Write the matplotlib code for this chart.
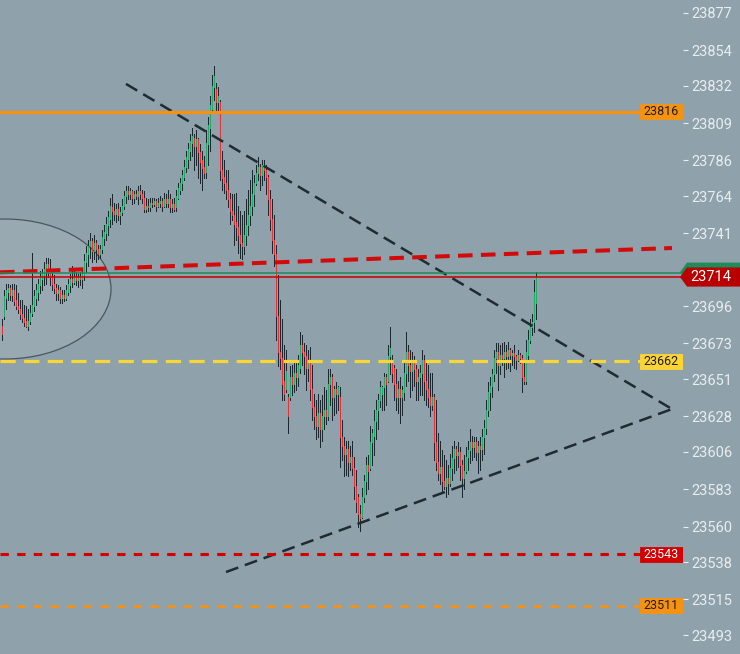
import matplotlib
matplotlib.use("Agg")
import matplotlib.pyplot as plt
from matplotlib.patches import Ellipse, Polygon, Rectangle
from matplotlib.transforms import blended_transform_factory

# -----------------------------
# candle data (one bar per index)
# -----------------------------
opens = [
    23684, 23690, 23701, 23705, 23707, 23703, 23706, 23700, 23696, 23694,
    23691, 23689, 23687, 23684, 23687, 23692, 23696, 23701, 23705, 23709,
    23713, 23715, 23719, 23722, 23718, 23714, 23710, 23707, 23704, 23706,
    23701, 23703, 23701, 23705, 23709, 23713, 23711, 23714, 23712, 23714,
    23713, 23715, 23723, 23728, 23733, 23736, 23730, 23735, 23731, 23728,
    23731, 23738, 23741, 23746, 23750, 23757, 23755, 23753, 23756, 23752,
    23754, 23758, 23764, 23767, 23765, 23767, 23763, 23765, 23764, 23767,
    23765, 23763, 23756, 23758, 23757, 23760, 23759, 23761, 23758, 23760,
    23761, 23758, 23762, 23760, 23762, 23757, 23759, 23757, 23763, 23768,
    23772, 23776, 23782, 23787, 23792, 23797, 23800, 23795, 23799, 23791,
    23786, 23782, 23779, 23796, 23806, 23818, 23831, 23830, 23822, 23822,
    23780, 23776, 23772, 23768, 23762, 23755, 23752, 23748, 23745, 23740,
    23735, 23733, 23740, 23746, 23752, 23758, 23765, 23772, 23778, 23782,
    23777, 23783, 23780, 23776, 23762, 23750, 23737, 23728, 23690, 23668,
    23664, 23650, 23645, 23640, 23640, 23652, 23648, 23655, 23652, 23658,
    23672, 23668, 23665, 23658, 23662, 23645, 23634, 23628, 23622, 23630,
    23620, 23628, 23632, 23628, 23648, 23652, 23640, 23645, 23642, 23640,
    23615, 23610, 23605, 23608, 23600, 23603, 23596, 23585, 23578, 23568,
    23566, 23578, 23588, 23598, 23596, 23612, 23616, 23625, 23632, 23638,
    23642, 23646, 23652, 23650, 23665, 23662, 23658, 23648, 23640, 23645,
    23640, 23643, 23655, 23668, 23660, 23656, 23662, 23657, 23650, 23652,
    23655, 23663, 23650, 23645, 23640, 23635, 23640, 23612, 23600, 23593,
    23597, 23588, 23585, 23590, 23587, 23596, 23602, 23608, 23604, 23606,
    23598, 23590, 23594, 23603, 23607, 23612, 23609, 23612, 23606, 23610,
    23608, 23615, 23621, 23632, 23643, 23647, 23654, 23664, 23668, 23660,
    23666, 23664, 23668, 23665, 23669, 23666, 23667, 23665, 23663, 23666,
    23664, 23652, 23650, 23666, 23675, 23683, 23686, 23698,
]
highs = [
    23688, 23706, 23710, 23710, 23709, 23710, 23710, 23709, 23704, 23700,
    23700, 23697, 23696, 23694, 23697, 23729, 23706, 23710, 23713, 23718,
    23719, 23723, 23726, 23726, 23725, 23718, 23715, 23710, 23709, 23708,
    23706, 23706, 23709, 23713, 23716, 23721, 23718, 23717, 23716, 23717,
    23719, 23728, 23733, 23737, 23741, 23738, 23740, 23737, 23734, 23734,
    23743, 23746, 23751, 23755, 23763, 23765, 23760, 23759, 23760, 23757,
    23762, 23767, 23770, 23770, 23769, 23768, 23767, 23768, 23770, 23771,
    23768, 23767, 23763, 23762, 23763, 23763, 23763, 23762, 23763, 23764,
    23763, 23766, 23765, 23768, 23765, 23762, 23763, 23768, 23772, 23775,
    23780, 23786, 23792, 23797, 23802, 23806, 23802, 23805, 23800, 23796,
    23792, 23789, 23805, 23813, 23826, 23839, 23844, 23834, 23831, 23823,
    23792, 23786, 23780, 23780, 23766, 23765, 23765, 23766, 23758, 23755,
    23752, 23755, 23762, 23768, 23774, 23780, 23777, 23783, 23788, 23784,
    23786, 23786, 23783, 23777, 23768, 23762, 23752, 23734, 23715, 23700,
    23688, 23672, 23669, 23642, 23659, 23660, 23663, 23662, 23666, 23680,
    23678, 23673, 23672, 23669, 23671, 23660, 23642, 23638, 23642, 23638,
    23641, 23646, 23644, 23657, 23657, 23654, 23647, 23649, 23647, 23646,
    23626, 23615, 23613, 23613, 23610, 23613, 23603, 23595, 23580, 23573,
    23584, 23592, 23603, 23604, 23622, 23620, 23632, 23638, 23642, 23650,
    23647, 23655, 23654, 23672, 23683, 23666, 23660, 23657, 23650, 23652,
    23647, 23663, 23680, 23672, 23669, 23668, 23665, 23660, 23657, 23660,
    23669, 23666, 23663, 23660, 23655, 23655, 23642, 23638, 23618, 23613,
    23607, 23604, 23601, 23598, 23605, 23610, 23613, 23610, 23612, 23609,
    23601, 23604, 23609, 23613, 23620, 23616, 23615, 23615, 23613, 23615,
    23620, 23626, 23638, 23649, 23652, 23657, 23669, 23673, 23673, 23672,
    23673, 23674, 23672, 23674, 23670, 23669, 23672, 23666, 23669, 23667,
    23666, 23662, 23675, 23681, 23688, 23691, 23712, 23717,
]
lows = [
    23675, 23688, 23694, 23700, 23700, 23699, 23697, 23694, 23692, 23688,
    23686, 23684, 23683, 23681, 23685, 23690, 23693, 23697, 23700, 23704,
    23706, 23709, 23710, 23714, 23709, 23706, 23704, 23700, 23700, 23698,
    23698, 23699, 23700, 23703, 23705, 23708, 23710, 23709, 23708, 23709,
    23707, 23712, 23717, 23721, 23726, 23723, 23725, 23723, 23725, 23726,
    23729, 23734, 23737, 23740, 23745, 23747, 23749, 23748, 23749, 23747,
    23752, 23756, 23760, 23762, 23762, 23759, 23760, 23762, 23759, 23762,
    23760, 23754, 23754, 23755, 23755, 23757, 23758, 23755, 23757, 23757,
    23755, 23757, 23757, 23757, 23754, 23754, 23755, 23755, 23762, 23765,
    23768, 23774, 23779, 23781, 23786, 23789, 23780, 23783, 23775, 23772,
    23768, 23775, 23775, 23783, 23792, 23815, 23823, 23815, 23815, 23774,
    23768, 23766, 23762, 23757, 23747, 23749, 23734, 23737, 23729, 23726,
    23725, 23728, 23734, 23740, 23746, 23752, 23758, 23771, 23774, 23768,
    23771, 23774, 23765, 23752, 23743, 23729, 23721, 23675, 23659, 23657,
    23638, 23638, 23643, 23618, 23638, 23641, 23643, 23644, 23647, 23655,
    23660, 23654, 23644, 23650, 23638, 23626, 23620, 23614, 23615, 23609,
    23613, 23620, 23623, 23626, 23635, 23626, 23629, 23630, 23632, 23597,
    23601, 23591, 23592, 23591, 23595, 23592, 23577, 23569, 23560, 23557,
    23565, 23575, 23580, 23583, 23595, 23598, 23604, 23614, 23620, 23634,
    23632, 23632, 23635, 23649, 23654, 23649, 23638, 23632, 23630, 23624,
    23629, 23638, 23647, 23650, 23640, 23644, 23647, 23638, 23638, 23641,
    23641, 23638, 23635, 23634, 23628, 23632, 23601, 23595, 23589, 23586,
    23581, 23583, 23578, 23580, 23585, 23589, 23593, 23595, 23597, 23589,
    23578, 23583, 23593, 23595, 23599, 23601, 23603, 23601, 23593, 23595,
    23601, 23605, 23617, 23628, 23632, 23640, 23650, 23655, 23644, 23654,
    23660, 23652, 23657, 23658, 23656, 23660, 23658, 23657, 23662, 23661,
    23643, 23648, 23648, 23663, 23673, 23678, 23680, 23688,
]
closes = [
    23679, 23702, 23706, 23707, 23703, 23706, 23699, 23696, 23694, 23691,
    23689, 23686, 23684, 23687, 23692, 23697, 23702, 23706, 23710, 23714,
    23716, 23719, 23722, 23718, 23714, 23710, 23707, 23704, 23706, 23701,
    23703, 23701, 23706, 23710, 23713, 23711, 23714, 23712, 23714, 23713,
    23716, 23724, 23729, 23733, 23736, 23730, 23735, 23731, 23728, 23731,
    23739, 23742, 23747, 23751, 23758, 23755, 23753, 23756, 23752, 23754,
    23758, 23764, 23767, 23765, 23767, 23763, 23765, 23764, 23767, 23765,
    23763, 23756, 23758, 23757, 23760, 23759, 23761, 23758, 23760, 23761,
    23758, 23762, 23760, 23762, 23757, 23759, 23756, 23764, 23769, 23772,
    23777, 23782, 23788, 23793, 23798, 23801, 23795, 23799, 23791, 23785,
    23781, 23778, 23797, 23808, 23820, 23832, 23838, 23822, 23826, 23780,
    23775, 23772, 23768, 23762, 23755, 23752, 23747, 23745, 23740, 23735,
    23733, 23740, 23746, 23752, 23758, 23765, 23772, 23778, 23782, 23777,
    23783, 23780, 23776, 23762, 23750, 23737, 23728, 23690, 23668, 23664,
    23648, 23642, 23656, 23628, 23652, 23648, 23655, 23652, 23660, 23672,
    23668, 23665, 23658, 23662, 23645, 23634, 23628, 23622, 23630, 23620,
    23628, 23632, 23628, 23648, 23652, 23640, 23645, 23642, 23646, 23615,
    23610, 23605, 23608, 23600, 23603, 23596, 23585, 23575, 23568, 23565,
    23578, 23588, 23598, 23594, 23612, 23618, 23625, 23632, 23638, 23646,
    23646, 23652, 23648, 23665, 23670, 23655, 23648, 23640, 23645, 23640,
    23644, 23655, 23668, 23660, 23656, 23662, 23657, 23650, 23652, 23655,
    23663, 23650, 23645, 23640, 23635, 23640, 23612, 23600, 23593, 23597,
    23588, 23585, 23590, 23587, 23596, 23602, 23608, 23604, 23606, 23598,
    23590, 23594, 23603, 23607, 23612, 23609, 23612, 23606, 23610, 23608,
    23615, 23621, 23632, 23643, 23647, 23654, 23664, 23668, 23660, 23666,
    23664, 23668, 23665, 23669, 23666, 23667, 23665, 23663, 23666, 23664,
    23652, 23650, 23668, 23675, 23683, 23686, 23705, 23714,
]

# price axis labels
tick_labels = [23877, 23854, 23832, 23809, 23786, 23764, 23741, 23719, 23696,
               23673, 23651, 23628, 23606, 23583, 23560, 23538, 23515, 23493]

# horizontal levels and their tags
level_prices = [23816, 23662, 23543, 23511]
level_colors = ["#f7920f", "#f9d535", "#d40000", "#f7920f"]
level_dashes = [None, (11, 6), (6, 6), (6, 6)]
level_widths = [2.3, 2.3, 2.2, 1.9]
tag_faces = ["#f7920f", "#fcd535", "#d40000", "#f7920f"]
tag_text = ["#1d1d1d", "#1d1d1d", "#ffffff", "#1d1d1d"]

last_price = 23714
bid_price = 23716.5

# drawn trend lines: (bar index, price) end points
desc_x, desc_y = [62.25, 335.25], [23833.2, 23632.5]
asc_x, asc_y = [112.25, 335.25], [23531.9, 23632.5]
red_x, red_y = [-0.75, 335.25], [23716.9, 23731.9]

# highlighted zone (bar index, price, width in bars, height in price)
zone_x, zone_y, zone_w, zone_h = 1.75, 23706.6, 106, 86.4

BG = "#8fa1aa"
WICK = "#1c2830"
UP = "#27a86c"
DOWN = "#e3323c"

plt.rcParams["font.family"] = ["Roboto", "DejaVu Sans"]
plt.rcParams["lines.scale_dashes"] = False

fig = plt.figure(figsize=(7.4, 6.54), dpi=100, facecolor=BG)
ax = fig.add_axes([0, 0, 683 / 740, 1])
ax.set_facecolor(BG)
ax.set_xlim(-0.75, 340.75)
ax.set_ylim(23481.3, 23885.0)

# zone ellipse
ax.add_patch(Ellipse((zone_x, zone_y), zone_w, zone_h, facecolor=(1, 1, 1, 0.09),
                     edgecolor="#4a575f", lw=0.9, zorder=1))

# candles: wick then body on the same 1px column
xs = list(range(len(closes)))
ax.vlines(xs, lows, highs, color=WICK, lw=0.62, antialiased=False, zorder=2)
body_colors = [UP if c >= o else DOWN for o, c in zip(opens, closes)]
ax.vlines(xs, opens, closes, color=body_colors, lw=0.62, antialiased=False, zorder=3)

# trend lines
ax.plot(desc_x, desc_y, color="#1f2b31", lw=1.8, dashes=(9.4, 5), zorder=4)
ax.plot(asc_x, asc_y, color="#1f2b31", lw=1.8, dashes=(9.4, 5), zorder=4)
ax.plot(red_x, red_y, color="#d30a0a", lw=2.9, dashes=(10.5, 6), zorder=4)

# last price lines
ax.axhline(bid_price, color="#1f8a5a", lw=1.1, zorder=4)
ax.axhline(last_price, color="#c80000", lw=1.1, zorder=4)

# horizontal levels with tags
tag_h = 9.3
for p, col, ds, w, face, tc in zip(level_prices, level_colors, level_dashes,
                                   level_widths, tag_faces, tag_text):
    if ds is None:
        ax.plot([-0.75, 319.25], [p, p], color=col, lw=w, zorder=4)
    else:
        ax.plot([-0.75, 319.25], [p, p], color=col, lw=w, dashes=ds, zorder=4)
    ax.add_patch(Rectangle((319.25, p - tag_h / 2), 21.5, tag_h, facecolor=face,
                           edgecolor=face, lw=0.6, zorder=6))
    ax.text(330, p, str(p), color=tc, fontsize=9, ha="center", va="center", zorder=7)

# price axis
ax.yaxis.tick_right()
ax.set_yticks(tick_labels)
ax.set_yticklabels([str(t) for t in tick_labels])
ax.tick_params(axis="y", colors="#e9eef1", labelcolor="#e9eef1", length=3.6,
               width=0.8, pad=2.5, labelsize=10.5)
ax.set_xticks([])
for s in ax.spines.values():
    s.set_visible(False)

# current price tag (green bid behind red last)
tr = blended_transform_factory(fig.transFigure, ax.transData)
hh = 5.9
for price, face in [(bid_price + 0.5, "#1f8a5a"), (last_price, "#b80000")]:
    pts = [(680 / 740, price), (687 / 740, price + hh), (1.0, price + hh),
           (1.0, price - hh), (687 / 740, price - hh)]
    ax.add_patch(Polygon(pts, closed=True, transform=tr, facecolor=face,
                         edgecolor="none", clip_on=False, zorder=10))
ax.text(711 / 740, last_price, str(last_price), transform=tr, color="white",
        fontsize=10.5, ha="center", va="center", clip_on=False, zorder=11)

fig.savefig("out.png", dpi=100, facecolor=BG)
plt.close(fig)
